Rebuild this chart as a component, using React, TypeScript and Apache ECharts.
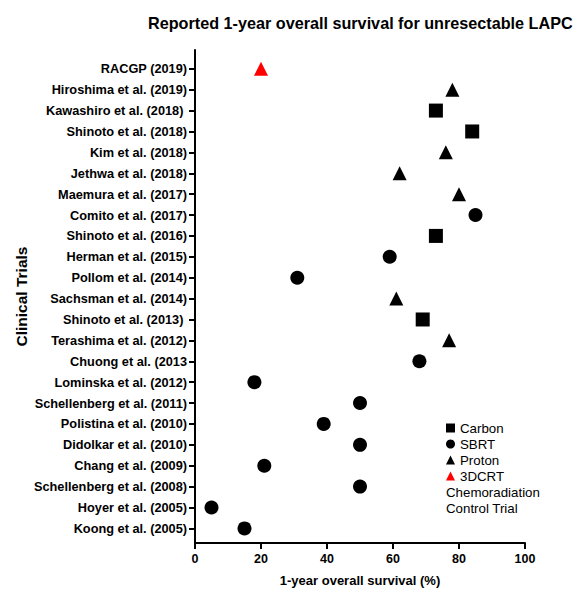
import React, { useEffect, useRef } from "react";
import * as echarts from "echarts";

// Trials listed top to bottom as in the figure
const trials = [
  "RACGP (2019)",
  "Hiroshima et al. (2019)",
  "Kawashiro et al. (2018) ",
  "Shinoto et al. (2018)",
  "Kim et al. (2018)",
  "Jethwa et al. (2018)",
  "Maemura et al. (2017)",
  "Comito et al. (2017)",
  "Shinoto et al. (2016)",
  "Herman et al. (2015)",
  "Pollom et al. (2014)",
  "Sachsman et al. (2014)",
  "Shinoto et al. (2013) ",
  "Terashima et al. (2012)",
  "Chuong et al. (2013",
  "Lominska et al. (2012)",
  "Schellenberg et al. (2011)",
  "Polistina et al. (2010)",
  "Didolkar et al. (2010)",
  "Chang et al. (2009)",
  "Schellenberg et al. (2008)",
  "Hoyer et al. (2005)",
  "Koong et al. (2005)",
];

// 1-year overall survival (%) for each trial, same order
const survival = [20, 78, 73, 84, 76, 62, 80, 85, 73, 59, 31, 61, 69, 77, 68, 18, 50, 39, 50, 21, 50, 5, 15];

// Treatment modality for each trial, same order
const modality = [
  "3DCRT", "Proton", "Carbon", "Carbon", "Proton", "Proton", "Proton", "SBRT", "Carbon", "SBRT",
  "SBRT", "Proton", "Carbon", "Proton", "SBRT", "SBRT", "SBRT", "SBRT", "SBRT", "SBRT",
  "SBRT", "SBRT", "SBRT",
];

const groups = ["Carbon", "SBRT", "Proton", "3DCRT"];
const groupSymbols = ["rect", "circle", "triangle", "triangle"];
const groupColors = ["#000000", "#000000", "#000000", "#ff0000"];

const xTicks = [0, 20, 40, 60, 80, 100];

const FONT = 'Arial, "Liberation Sans", Helvetica, sans-serif';

export default function App() {
  const ref = useRef<HTMLDivElement>(null);

  useEffect(() => {
    if (!ref.current) return;
    const chart = echarts.init(ref.current, undefined, { renderer: "svg" });
    const N = trials.length;
    const yIdx = trials.map((_, i) => N - 1 - i);

    const series = groups.map((g, gi) => ({
      name: g,
      type: "scatter",
      symbol: groupSymbols[gi],
      symbolSize: 14,
      itemStyle: { color: groupColors[gi], opacity: 1 },
      emphasis: { disabled: true },
      data: trials
        .map((_, i) => (modality[i] === g ? [survival[i], yIdx[i]] : null))
        .filter((d) => d !== null),
    }));

    chart.setOption({
      animation: false,
      textStyle: { fontFamily: FONT },
      title: {
        text: "Reported 1-year overall survival for unresectable LAPC",
        left: 148,
        top: 15,
        padding: 0,
        textStyle: { fontFamily: FONT, fontSize: 16.2, fontWeight: "bold", color: "#000" },
      },
      legend: {
        orient: "vertical",
        left: 446,
        top: 420,
        padding: 0,
        itemGap: 0,
        itemWidth: 9,
        itemHeight: 9,
        data: groups.map((g, gi) => ({ name: g, icon: groupSymbols[gi] })),
        itemStyle: { opacity: 1 },
        textStyle: { fontFamily: FONT, fontSize: 13.3, color: "#000", lineHeight: 16 },
      },
      graphic: [
        {
          type: "text",
          left: 446,
          top: 484,
          style: {
            text: "Chemoradiation\nControl Trial",
            fontFamily: FONT,
            fontSize: 13.3,
            lineHeight: 16,
            fill: "#000",
          },
        },
      ],
      grid: { left: 195, right: 49, top: 50, bottom: 45, containLabel: false },
      xAxis: {
        type: "value",
        min: 0,
        max: 100,
        interval: 20,
        name: "1-year overall survival (%)",
        nameLocation: "middle",
        nameGap: 31,
        nameMoveOverlap: false,
        nameTextStyle: { fontFamily: FONT, fontSize: 13, fontWeight: "bold", color: "#000" },
        axisLine: { show: true, onZero: false, lineStyle: { color: "#000", width: 2 } },
        axisTick: { show: true, length: 6, lineStyle: { color: "#000", width: 2 } },
        axisLabel: {
          margin: 9,
          fontFamily: FONT,
          fontSize: 12.5,
          fontWeight: "bold",
          color: "#000",
          customValues: xTicks,
        },
        splitLine: { show: false },
      },
      yAxis: {
        type: "value",
        min: -0.7,
        max: 22.9,
        name: "Clinical Trials",
        nameLocation: "middle",
        nameRotate: 90,
        nameGap: 166,
        nameMoveOverlap: false,
        nameTextStyle: { fontFamily: FONT, fontSize: 15.5, fontWeight: "bold", color: "#000" },
        axisLine: { show: true, onZero: false, lineStyle: { color: "#000", width: 2 } },
        axisTick: {
          show: true,
          length: 6,
          lineStyle: { color: "#000", width: 2 },
          customValues: yIdx,
        },
        axisLabel: {
          margin: 8,
          fontFamily: FONT,
          fontSize: 12.75,
          fontWeight: "bold",
          color: "#000",
          customValues: yIdx,
          formatter: (v: number) => trials[N - 1 - Math.round(v)] ?? "",
        },
        splitLine: { show: false },
      },
      series,
    });
    return () => chart.dispose();
  }, []);

  return (
    <div
      ref={ref}
      style={{ position: "absolute", left: 0, top: 0, width: 574, height: 592, background: "#fff" }}
    />
  );
}
